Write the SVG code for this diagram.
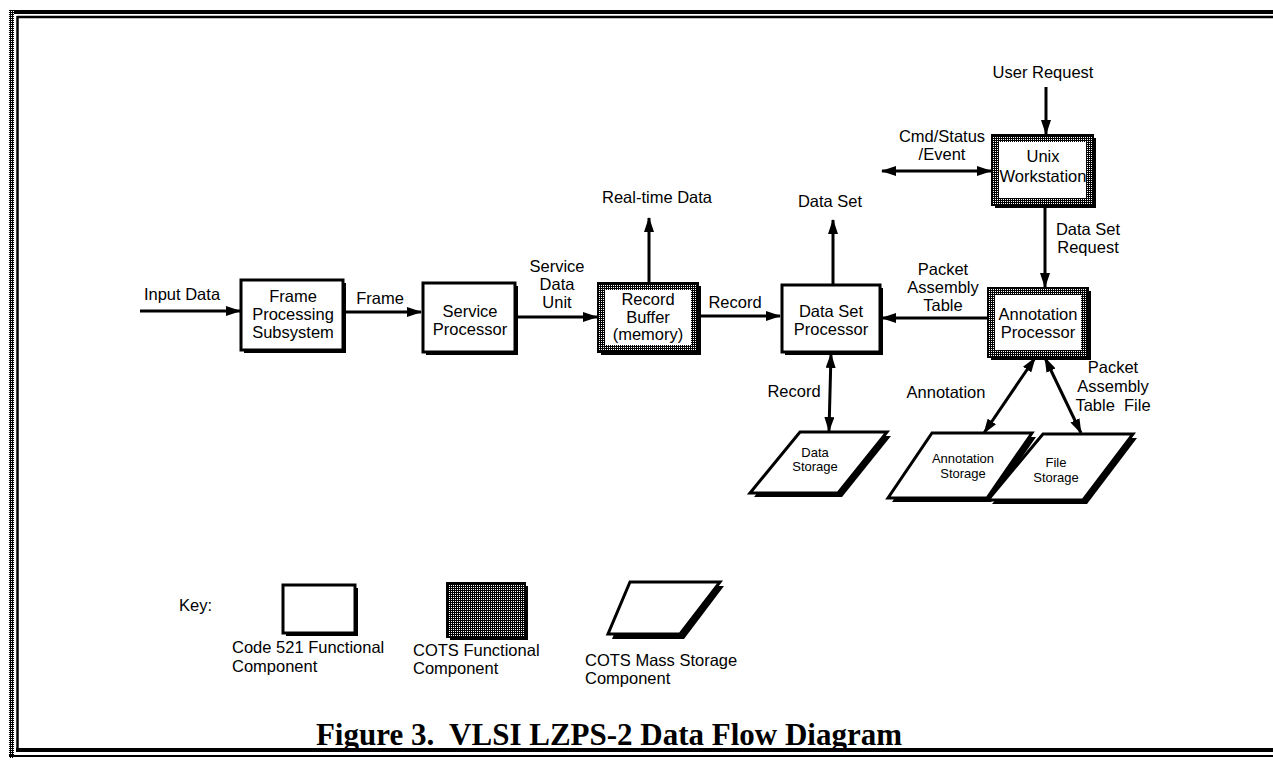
<svg xmlns="http://www.w3.org/2000/svg" width="1273" height="762" viewBox="0 0 1273 762">
<style>
text{font-family:"Liberation Sans",Arial,sans-serif;font-size:16.5px;fill:#000;text-anchor:middle}
.sm{font-size:13px}
.lt{text-anchor:start}
.cap{font-family:"Liberation Serif","Times New Roman",serif;font-weight:bold;font-size:31px;white-space:pre}
.box{fill:#fff;stroke:#000;stroke-width:3}
.shd{fill:#000}
.cots{fill:url(#dots);stroke:#000;stroke-width:2}
.in{fill:#fff}
.store{fill:#fff;stroke:#000;stroke-width:3;stroke-linejoin:miter}
.c{stroke:#000;stroke-width:3;fill:none;marker-end:url(#ah)}
.d{marker-start:url(#ah)}
.bd{stroke:#000;fill:none}
</style>
<defs>
<pattern id="dots" width="2" height="2" patternUnits="userSpaceOnUse"><rect width="2" height="2" fill="#000"/><rect x="1" y="1" width="1" height="1" fill="#fff"/></pattern>
<marker id="ah" viewBox="0 0 15 10" refX="14" refY="5" markerWidth="15" markerHeight="10" orient="auto-start-reverse" markerUnits="userSpaceOnUse"><path d="M0,0 L15,5 L0,10 z" fill="#000"/></marker>
</defs>
<rect width="1273" height="762" fill="#fff"/>
<g id="frame">
<line class="bd" x1="9" y1="12" x2="1273" y2="12" stroke-width="4"/>
<line class="bd" x1="17" y1="17" x2="1273" y2="17" stroke-width="2.5"/>
<rect x="9" y="10" width="5" height="748" fill="url(#dots)"/>
<line class="bd" x1="17.5" y1="16" x2="17.5" y2="751" stroke-width="2.5"/>
<line class="bd" x1="16" y1="750" x2="1273" y2="750" stroke-width="4"/>
<line class="bd" x1="9" y1="756" x2="1273" y2="756" stroke-width="2"/>
</g>
<g id="connectors">
<line class="c" x1="140" y1="311" x2="240" y2="311"/>
<line class="c" x1="345" y1="312" x2="421" y2="312"/>
<line class="c" x1="517" y1="317" x2="597" y2="317"/>
<line class="c" x1="649" y1="282" x2="649" y2="218"/>
<line class="c" x1="700" y1="316" x2="780" y2="316"/>
<line class="c" x1="833" y1="284" x2="833" y2="220"/>
<line class="c" x1="988" y1="318" x2="882" y2="318"/>
<line class="c" x1="1046" y1="87" x2="1046" y2="134"/>
<line class="c d" x1="882" y1="171" x2="991" y2="171"/>
<line class="c" x1="1045" y1="207" x2="1045" y2="287"/>
<line class="c d" x1="831" y1="354" x2="829" y2="431"/>
<line class="c d" x1="1035" y1="358" x2="984" y2="433" stroke-width="4"/>
<line class="c d" x1="1045" y1="358" x2="1081" y2="433" stroke-width="4"/>
</g>
<g id="n-frame">
<rect class="shd" x="244" y="283" width="102" height="70"/>
<rect class="box" x="241" y="280" width="102" height="70"/>
<text x="293" y="302">Frame</text><text x="293" y="320">Processing</text><text x="293" y="338">Subsystem</text>
</g>
<g id="n-service">
<rect class="shd" x="426" y="286" width="92" height="69"/>
<rect class="box" x="423" y="283" width="92" height="69"/>
<text x="470" y="317">Service</text><text x="470" y="335">Processor</text>
</g>
<g id="n-recbuf">
<rect class="shd" x="601" y="286" width="100" height="69"/>
<rect class="cots" x="598" y="283" width="100" height="69"/>
<rect class="in" x="605" y="290" width="86" height="55"/>
<text x="648" y="305">Record</text><text x="648" y="323">Buffer</text><text x="648" y="340">(memory)</text>
</g>
<g id="n-dsp">
<rect class="shd" x="785" y="288" width="98" height="67"/>
<rect class="box" x="782" y="285" width="98" height="67"/>
<text x="831" y="317">Data Set</text><text x="831" y="335">Processor</text>
</g>
<g id="n-unix">
<rect class="shd" x="995" y="138" width="101" height="70"/>
<rect class="cots" x="992" y="135" width="101" height="70"/>
<rect class="in" x="999" y="142" width="87" height="56"/>
<text x="1043" y="162">Unix</text><text x="1043" y="182">Workstation</text>
</g>
<g id="n-annproc">
<rect class="shd" x="991" y="291" width="100" height="69"/>
<rect class="cots" x="988" y="288" width="100" height="69"/>
<rect class="in" x="995" y="295" width="86" height="55"/>
<text x="1038" y="320">Annotation</text><text x="1038" y="338">Processor</text>
</g>
<g id="n-datastore">
<polygon class="shd" points="804,436 891,436 842,497 754,497"/>
<polygon class="store" points="800,432 887,432 838,493 750,493"/>
<text class="sm" x="815" y="457">Data</text><text class="sm" x="815" y="471">Storage</text>
</g>
<g id="n-annstore">
<polygon class="shd" points="936,437 1036,437 991,502 892,502"/>
<polygon class="store" points="932,433 1032,433 987,498 888,498"/>
<text class="sm" x="963" y="463">Annotation</text><text class="sm" x="963" y="478">Storage</text>
</g>
<g id="n-filestore">
<polygon class="shd" points="1047,438 1137,438 1087,504 992,504"/>
<polygon class="store" points="1043,434 1133,434 1083,500 988,500"/>
<text class="sm" x="1056" y="467">File</text><text class="sm" x="1056" y="482">Storage</text>
</g>
<g id="labels">
<text x="182" y="300">Input Data</text>
<text x="380" y="304">Frame</text>
<text x="557" y="272">Service</text><text x="557" y="290">Data</text><text x="557" y="308">Unit</text>
<text x="657" y="203">Real-time Data</text>
<text x="735" y="308">Record</text>
<text x="830" y="207">Data Set</text>
<text x="943" y="275">Packet</text><text x="943" y="293">Assembly</text><text x="943" y="311">Table</text>
<text x="1043" y="78">User Request</text>
<text x="942" y="142">Cmd/Status</text><text x="942" y="160">/Event</text>
<text x="1088" y="235">Data Set</text><text x="1088" y="253">Request</text>
<text x="794" y="397">Record</text>
<text x="946" y="398">Annotation</text>
<text x="1113" y="373">Packet</text><text x="1113" y="392">Assembly</text><text x="1113" y="411" style="white-space:pre">Table  File</text>
</g>
<g id="key">
<text class="lt" x="179" y="611">Key:</text>
<rect class="shd" x="286" y="588" width="72" height="48"/>
<rect class="box" x="283" y="585" width="72" height="48"/>
<text class="lt" x="232" y="653">Code 521 Functional</text><text class="lt" x="232" y="672">Component</text>
<rect class="shd" x="450" y="586" width="78" height="54"/>
<rect class="cots" x="447" y="583" width="78" height="54"/>
<text class="lt" x="413" y="656">COTS Functional</text><text class="lt" x="413" y="674">Component</text>
<polygon class="shd" points="634,586 724,586 684,639 612,639"/>
<polygon class="store" points="630,582 720,582 680,634 608,634"/>
<text class="lt" x="585" y="666">COTS Mass Storage</text><text class="lt" x="585" y="684">Component</text>
</g>
<text class="cap" x="609" y="745">Figure 3.  VLSI LZPS-2 Data Flow Diagram</text>
</svg>
